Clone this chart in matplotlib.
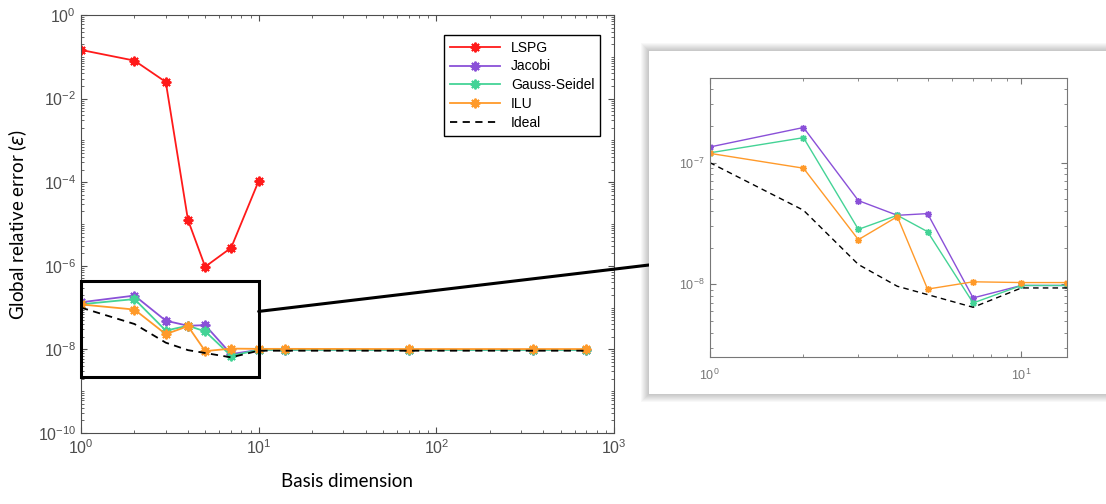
"""Convergence of the preconditioned LSPG variants against basis dimension"""

import matplotlib
matplotlib.use("Agg")
from matplotlib import pyplot as plt
from matplotlib.patches import Rectangle, ConnectionPatch
from matplotlib.ticker import LogLocator, NullFormatter

plt.rcParams["font.family"] = ["Liberation Sans", "DejaVu Sans"]

W, H = 1106, 504

# Dati
basis = [1, 2, 3, 4, 5, 7, 10, 14, 70, 350, 700]
basis_lspg = [1, 2, 3, 4, 5, 7, 10]
lspg = [0.146, 0.081, 0.025, 1.25e-5, 9.5e-7, 2.7e-6, 1.07e-4]
jacobi = [1.34e-7, 1.94e-7, 4.86e-8, 3.68e-8, 3.8e-8, 7.7e-9, 9.75e-9,
          9.75e-9, 9.7e-9, 9.7e-9, 9.7e-9]
gauss_seidel = [1.2e-7, 1.6e-7, 2.82e-8, 3.68e-8, 2.7e-8, 7.0e-9, 9.75e-9,
                9.75e-9, 9.7e-9, 9.7e-9, 9.7e-9]
ilu = [1.19e-7, 8.98e-8, 2.32e-8, 3.59e-8, 9.1e-9, 1.045e-8, 1.03e-8,
       1.03e-8, 1.02e-8, 1.02e-8, 1.02e-8]
ideal = [1.0e-7, 4.05e-8, 1.45e-8, 9.6e-9, 8.2e-9, 6.45e-9, 9.3e-9,
         9.3e-9, 9.3e-9, 9.3e-9, 9.3e-9]

nomi = ["LSPG", "Jacobi", "Gauss-Seidel", "ILU", "Ideal"]
colori = ["#ff1a1a", "#8a50d8", "#44d396", "#ff9a2a", "black"]

AST = (8, 2, 0)  # asterisco stile MATLAB
GRIGIO = "#4d4d4d"


def fig_box(x0, y0, x1, y1):
    """Pixel (origine in alto a sinistra) -> frazione di figura"""
    return [x0 / W, 1 - y1 / H, (x1 - x0) / W, (y1 - y0) / H]


def stile_assi(ax, col, size):
    ax.set_xscale("log")
    ax.set_yscale("log")
    ax.tick_params(which="both", direction="in", top=True, right=True,
                   colors=col, labelcolor=col, labelsize=size)
    ax.tick_params(which="major", length=4)
    ax.tick_params(which="minor", length=2)
    for s in ax.spines.values():
        s.set_color(col)
        s.set_linewidth(0.8)
    ax.xaxis.set_minor_locator(LogLocator(base=10, subs=range(2, 10)))
    ax.xaxis.set_minor_formatter(NullFormatter())
    ax.yaxis.set_minor_formatter(NullFormatter())


fig = plt.figure(figsize=(W / 100, H / 100), dpi=100)

# Grafico principale
ax = fig.add_axes(fig_box(81, 15, 614, 433))
stile_assi(ax, GRIGIO, 11.5)
ax.plot(basis_lspg, lspg, color=colori[0], lw=1.3, marker=AST, ms=7, mew=1.4, label=nomi[0])
ax.plot(basis, jacobi, color=colori[1], lw=1.3, marker=AST, ms=7, mew=1.4, label=nomi[1])
ax.plot(basis, gauss_seidel, color=colori[2], lw=1.3, marker=AST, ms=7, mew=1.4, label=nomi[2])
ax.plot(basis, ilu, color=colori[3], lw=1.3, marker=AST, ms=7, mew=1.4, label=nomi[3])
ax.plot(basis, ideal, color=colori[4], lw=1.3, ls=(0, (4, 3)), label=nomi[4])
ax.set_xlim(1, 1000)
ax.set_ylim(1e-10, 1)
ax.set_yticks([1e0, 1e-2, 1e-4, 1e-6, 1e-8, 1e-10])
ax.yaxis.set_minor_locator(LogLocator(base=10, subs=range(1, 10), numticks=20))
ax.set_xlabel("Basis dimension", fontfamily="Lato", fontsize=13.5, color="black", labelpad=12)
ax.set_ylabel(r"Global relative error ($\epsilon$)", fontfamily="Lato", fontsize=13.5,
              color="black", labelpad=6)

leg = ax.legend(loc="upper right", bbox_to_anchor=(0.974, 0.952), borderaxespad=0,
                fontsize=10, handlelength=3.6, fancybox=False, framealpha=1,
                edgecolor="black", borderpad=0.4, labelspacing=0.35)
leg.get_frame().set_linewidth(1.0)

# Zona ingrandita
zoom_y = (2.2e-9, 4.3e-7)
ax.add_patch(Rectangle((1, zoom_y[0]), 9, zoom_y[1] - zoom_y[0], fill=False,
                       edgecolor="black", lw=2.2, clip_on=False, zorder=5))

# Riquadro con ombra sfumata
px0, py0, px1, py1 = 649, 51, 1112, 394
for i in range(1, 9):
    fig.add_artist(Rectangle(((px0 - i) / W, 1 - (py1 + i) / H), (px1 - px0 + 2 * i) / W,
                             (py1 - py0 + 2 * i) / H, transform=fig.transFigure,
                             facecolor="black", edgecolor="none", alpha=0.028, zorder=1))
fig.add_artist(Rectangle((px0 / W, 1 - py1 / H), (px1 - px0) / W, (py1 - py0) / H,
                         transform=fig.transFigure, facecolor="white",
                         edgecolor="none", zorder=1.1))

con = ConnectionPatch(xyA=(10, 8.1e-8), coordsA=ax.transData,
                      xyB=(px0 / W, 1 - 265 / H), coordsB=fig.transFigure,
                      color="black", lw=2.2, zorder=0.9)
fig.add_artist(con)

# Grafico ingrandito
axi = fig.add_axes(fig_box(709.6, 77.5, 1067, 356.5), zorder=2)
stile_assi(axi, "#777777", 9)
axi.plot(basis, jacobi, color=colori[1], lw=1.0, marker=AST, ms=5, mew=1.0)
axi.plot(basis, gauss_seidel, color=colori[2], lw=1.0, marker=AST, ms=5, mew=1.0)
axi.plot(basis, ilu, color=colori[3], lw=1.0, marker=AST, ms=5, mew=1.0)
axi.plot(basis, ideal, color="black", lw=1.0, ls=(0, (4, 3)))
axi.set_xlim(1, 14)
axi.set_ylim(2.54e-9, 5e-7)
axi.set_xticks([1, 10])
axi.set_yticks([1e-8, 1e-7])
axi.yaxis.set_minor_locator(LogLocator(base=10, subs=range(2, 10)))
axi.tick_params(axis="x", pad=8)

fig.savefig("out.png", dpi=100)
